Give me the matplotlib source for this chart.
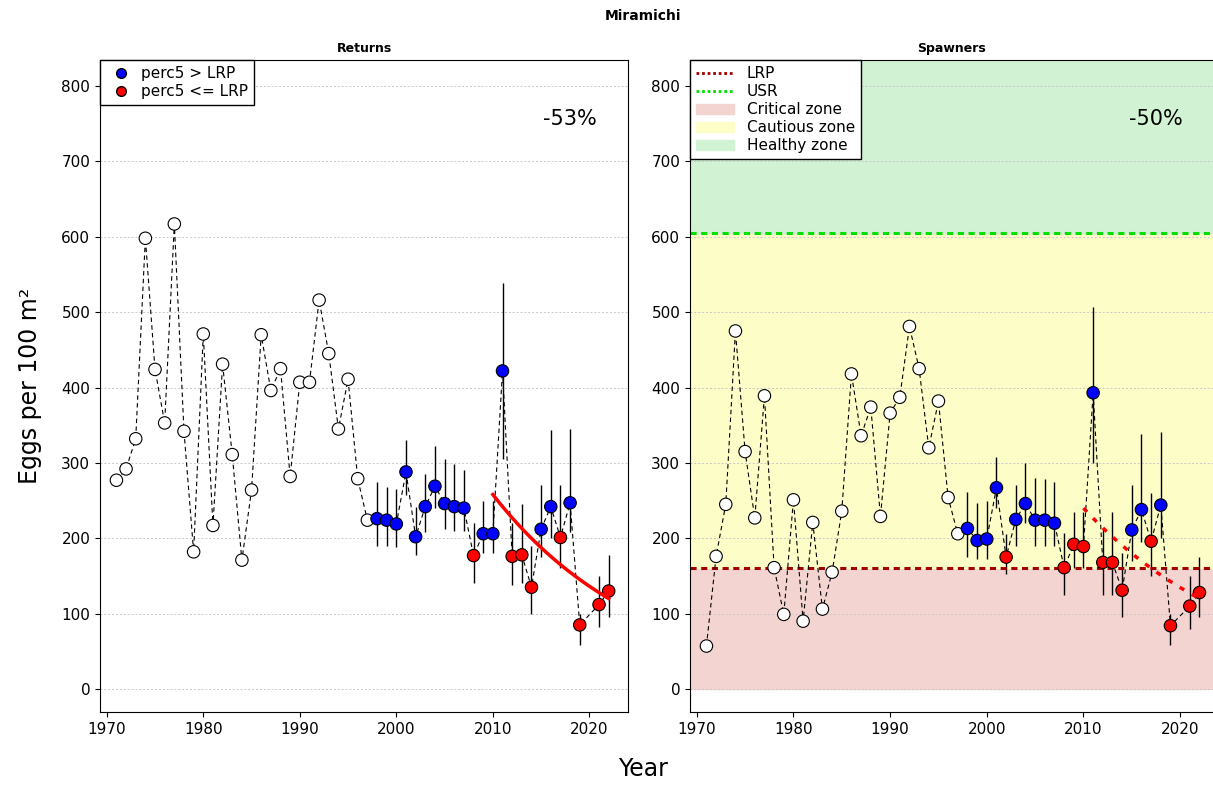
import matplotlib
matplotlib.use("Agg")
import matplotlib.pyplot as plt
import numpy as np
from matplotlib.lines import Line2D
from matplotlib.patches import Patch

years = [1971, 1972, 1973, 1974, 1975, 1976, 1977, 1978, 1979, 1980, 1981, 1982, 1983,
         1984, 1985, 1986, 1987, 1988, 1989, 1990, 1991, 1992, 1993, 1994, 1995, 1996,
         1997, 1998, 1999, 2000, 2001, 2002, 2003, 2004, 2005, 2006, 2007, 2008, 2009,
         2010, 2011, 2012, 2013, 2014, 2015, 2016, 2017, 2018, 2019, 2021, 2022]

returns = [277, 292, 332, 598, 424, 353, 617, 342, 182, 471, 217, 431, 311, 171, 264,
           470, 396, 425, 282, 407, 407, 516, 445, 345, 411, 279, 224, 226, 224, 219,
           288, 202, 242, 269, 246, 242, 240, 177, 206, 206, 422, 176, 178, 135, 212,
           242, 201, 247, 85, 112, 130]

spawners = [57, 176, 245, 475, 315, 227, 389, 161, 99, 251, 90, 221, 106, 155, 236,
            418, 336, 374, 229, 366, 387, 481, 425, 320, 382, 254, 206, 213, 197, 199,
            267, 175, 225, 246, 224, 224, 220, 161, 192, 189, 393, 168, 168, 131, 211,
            238, 196, 244, 84, 110, 128]

# error bars from 1998 on
ret_lo = [190, 190, 188, 258, 178, 208, 240, 212, 210, 210, 140, 180, 180, 305, 138,
          140, 100, 175, 200, 160, 208, 58, 82, 95]
ret_hi = [275, 268, 265, 330, 242, 285, 323, 305, 298, 290, 220, 250, 250, 538, 220,
          245, 190, 270, 343, 270, 345, 100, 150, 178]
spa_lo = [175, 173, 173, 240, 153, 190, 220, 190, 190, 190, 125, 160, 160, 300, 125,
          125, 95, 170, 195, 150, 200, 58, 80, 95]
spa_hi = [262, 247, 250, 308, 205, 270, 300, 280, 278, 275, 207, 235, 235, 507, 212,
          235, 180, 270, 338, 260, 341, 100, 150, 175]

LRP = 160
USR = 605
trend_years = [2010, 2022]
ret_trend = [258, 120]
spa_trend = [240, 120]
pct = ["-53%", "-50%"]

years = np.array(years)
err_start = 1998


def colours(vals, lo):
    cols = []
    for i, y in enumerate(years):
        if y < err_start:
            cols.append("white")
        else:
            cols.append("blue" if lo[i - list(years).index(err_start)] > LRP else "red")
    return cols


def panel(ax, vals, lo, hi, trend, title, label, dotted):
    n0 = list(years).index(err_start)
    ey = years[n0:]
    ax.vlines(ey, lo, hi, color="black", lw=1, zorder=2)
    ax.plot(years, vals, ls="--", color="black", lw=0.8, zorder=3, dashes=(4, 3))
    cols = colours(vals, lo)
    ax.scatter(years, vals, s=80, c=cols, edgecolors="black", linewidths=0.8, zorder=4)
    ty = np.linspace(trend_years[0], trend_years[1], 50)
    k = np.log(trend[1] / trend[0]) / (trend_years[1] - trend_years[0])
    tv = trend[0] * np.exp(k * (ty - trend_years[0]))
    if dotted:
        ax.plot(ty, tv, color="red", lw=2.5, ls=(0, (1.5, 2.5)), zorder=5)
    else:
        ax.plot(ty, tv, color="red", lw=2.5, zorder=5)
    ax.set_ylim(-30.5, 834.5)
    ax.set_yticks(range(0, 801, 100))
    ax.set_xticks(range(1970, 2021, 10))
    for v in range(0, 801, 100):
        ax.axhline(v, color="#c8c8c8", ls=(0, (2, 2)), lw=0.7, zorder=1)
    ax.set_title(title, fontsize=9, fontweight="bold", pad=6)
    ax.text(0.89, 0.9, label, transform=ax.transAxes, fontsize=15, ha="center")
    ax.tick_params(labelsize=11)


fig = plt.figure(figsize=(12.13, 7.88), dpi=100)
ax1 = fig.add_axes([100 / 1213, 76 / 788, 528 / 1213, 652 / 788])
ax2 = fig.add_axes([690 / 1213, 76 / 788, 523 / 1213, 652 / 788])

ax1.set_xlim(1969.3, 2024.0)
ax2.set_xlim(1969.3, 2023.4)

panel(ax1, returns, ret_lo, ret_hi, ret_trend, "Returns", pct[0], False)
panel(ax2, spawners, spa_lo, spa_hi, spa_trend, "Spawners", pct[1], True)

ax2.axhspan(0, LRP, color="#f4d4d0", zorder=0)
ax2.axhspan(LRP, USR, color="#fdfdc8", zorder=0)
ax2.axhspan(USR, 834.5, color="#d2f2d4", zorder=0)
ax2.axhline(LRP, color="#a00000", ls=(0, (2, 1.5)), lw=2.2, zorder=2)
ax2.axhline(USR, color="#00e000", ls=(0, (2, 1.5)), lw=2.2, zorder=2)
ax2.spines["right"].set_visible(False)

h1 = [Line2D([], [], marker="o", ls="", markerfacecolor="blue", markeredgecolor="black", markersize=7),
      Line2D([], [], marker="o", ls="", markerfacecolor="red", markeredgecolor="black", markersize=7)]
ax1.legend(h1, ["perc5 > LRP", "perc5 <= LRP"], loc="upper left", fontsize=11,
           fancybox=False, edgecolor="black", framealpha=1, borderaxespad=0,
           handletextpad=0.3, labelspacing=0.2)

h2 = [Line2D([], [], color="#a00000", ls=(0, (1, 1)), lw=2),
      Line2D([], [], color="#00e000", ls=(0, (1, 1)), lw=2),
      Patch(color="#f4d4d0"), Patch(color="#fdfdc8"), Patch(color="#d2f2d4")]
ax2.legend(h2, ["LRP", "USR", "Critical zone", "Cautious zone", "Healthy zone"],
           loc="upper left", fontsize=11, fancybox=False, edgecolor="black",
           framealpha=1, borderaxespad=0, labelspacing=0.2, handlelength=2.5)

ax1.set_ylabel("Eggs per 100 m²", fontsize=17, labelpad=14)
fig.text(0.53, 0.015, "Year", fontsize=17, ha="center")
fig.text(0.53, 0.975, "Miramichi", fontsize=10, fontweight="bold", ha="center")

fig.savefig("out.png", dpi=100)
